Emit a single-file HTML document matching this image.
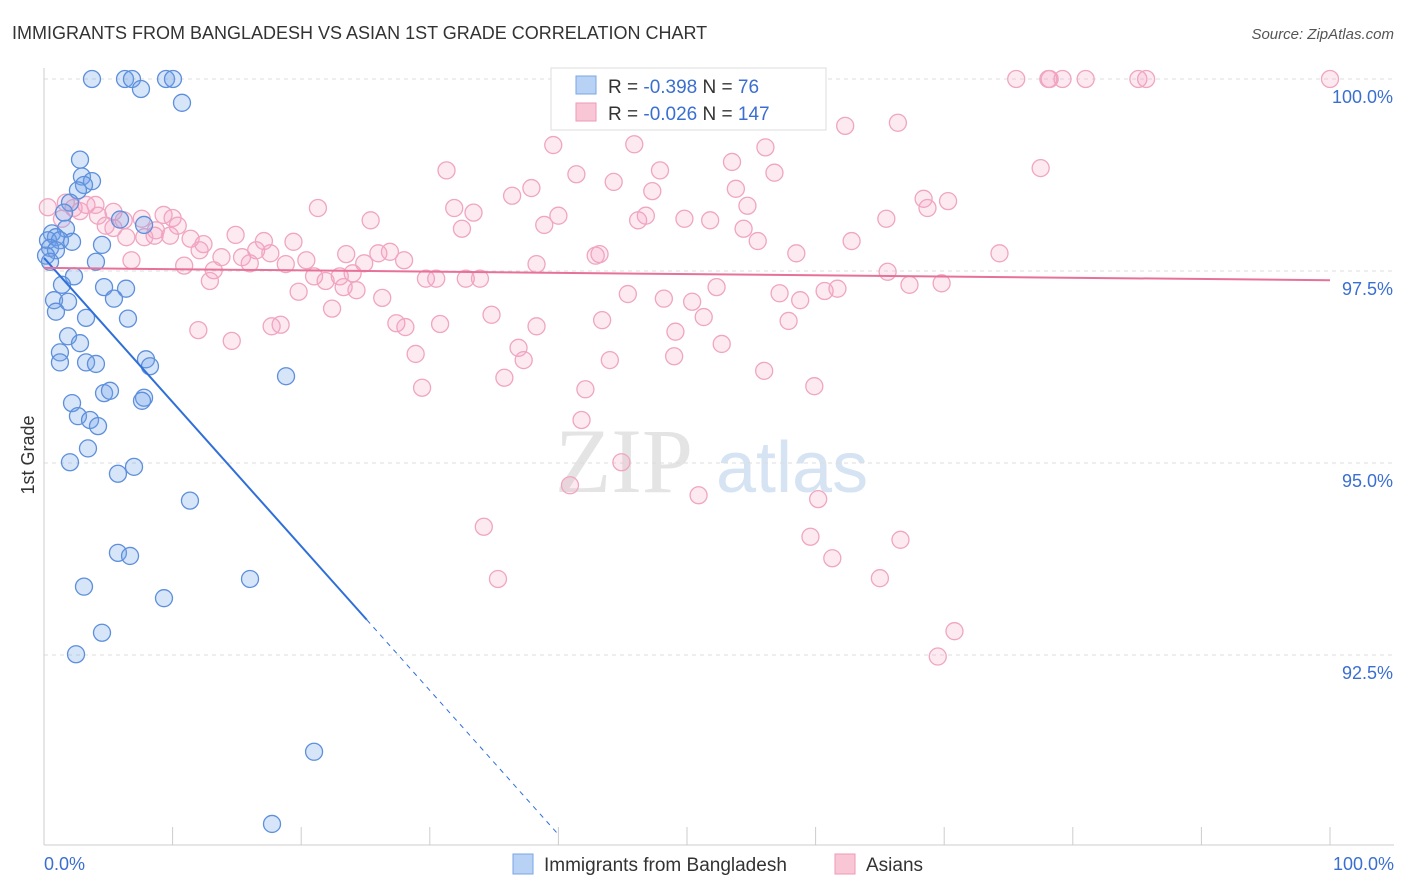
<!DOCTYPE html>
<html><head><meta charset="utf-8"><style>
body{margin:0;background:#fff;font-family:"Liberation Sans",sans-serif;}
svg{display:block}
</style></head><body>
<svg id="chart" width="1406" height="892">
<text x="12" y="39" font-size="18" fill="#333">IMMIGRANTS FROM BANGLADESH VS ASIAN 1ST GRADE CORRELATION CHART</text>
<text x="1394" y="39" font-size="15" fill="#555" text-anchor="end" font-style="italic">Source: ZipAtlas.com</text>
<text x="34" y="455" font-size="18" fill="#333" text-anchor="middle" transform="rotate(-90 34 455)">1st Grade</text>
<g><text x="555" y="492" font-size="92" fill="#e4e4e4" font-family="Liberation Serif,serif">ZIP</text><text x="716" y="492" font-size="72" fill="#d6e3f3">atlas</text></g>
<g id="grid"></g>
<g id="axes"></g>
<g id="pts"></g>
<g id="lines"></g>
<g>
<rect x="551" y="68" width="275" height="62" fill="#fff" stroke="#ddd"/>
<rect x="576" y="76" width="20" height="18" fill="#b8d2f5" stroke="#7aa6e4"/>
<rect x="576" y="103" width="20" height="18" fill="#f9c6d5" stroke="#ee9ab6"/>
<text x="608" y="93" font-size="19" fill="#333">R = <tspan fill="#3a6fd1">-0.398</tspan>   N =  <tspan fill="#3a6fd1"> 76</tspan></text>
<text x="608" y="120" font-size="19" fill="#333">R = <tspan fill="#3a6fd1">-0.026</tspan>   N = <tspan fill="#3a6fd1">147</tspan></text>
</g>
<g>
<rect x="513" y="854" width="20" height="20" fill="#b8d2f5" stroke="#7aa6e4"/>
<text x="544" y="871" font-size="19" fill="#333">Immigrants from Bangladesh</text>
<rect x="835" y="854" width="20" height="20" fill="#f9c6d5" stroke="#ee9ab6"/>
<text x="866" y="871" font-size="19" fill="#333">Asians</text>
</g>
</svg>
<script>
const yTicks=[100,97.5,95,92.5];
const yTickLabels=["100.0%","97.5%","95.0%","92.5%"];
const xTickLabels=["0.0%","100.0%"];
const blueX=[3.73,6.30,6.84,9.49,10.03,7.54,10.73,2.80,2.95,3.73,3.11,2.64,2.02,1.56,5.91,7.78,1.71,0.62,0.93,0.31,1.24,2.18,4.51,0.47,0.93,0.16,0.47,4.04,2.33,1.40,4.67,6.38,0.78,1.87,5.44,0.93,3.27,6.53,1.87,2.80,1.24,1.24,3.27,4.04,7.93,8.24,18.82,4.67,5.13,2.18,7.78,7.62,2.64,3.58,4.20,3.42,2.02,7.00,5.75,11.35,5.75,6.69,3.11,16.02,9.33,4.51,2.49,21.0,17.73];
const blueY=[100,100,100,100,100,99.87,99.69,98.95,98.73,98.67,98.62,98.55,98.39,98.26,98.17,98.10,98.05,97.99,97.94,97.90,97.90,97.88,97.84,97.80,97.77,97.70,97.62,97.62,97.43,97.32,97.29,97.27,97.12,97.10,97.14,96.97,96.89,96.88,96.65,96.56,96.44,96.31,96.31,96.29,96.35,96.26,96.13,95.91,95.94,95.78,95.85,95.81,95.61,95.56,95.48,95.19,95.01,94.95,94.86,94.51,93.83,93.79,93.39,93.49,93.24,92.79,92.51,91.24,90.30];
const pinkX=[75.6,78.1,79.2,81.0,85.1,85.7,100,78.2,62.3,66.4,39.6,45.9,56.1,53.5,47.9,77.5,31.3,41.4,56.8,44.3,37.9,53.8,47.3,36.4,68.4,70.3,54.7,68.7,31.9,21.3,33.4,40.0,46.2,46.8,49.8,51.8,65.5,25.4,32.5,38.9,54.4,0.3,1.7,3.3,4.2,5.4,4.8,6.2,1.4,7.6,9.3,10.0,10.4,8.6,8.7,6.4,7.8,11.4,14.9,12.4,17.1,19.4,55.5,62.8,43.2,16.5,13.8,15.4,16.0,17.6,20.4,23.5,26.0,26.9,28.0,24.9,38.3,42.9,58.5,74.3,6.8,10.9,13.2,18.8,21.0,24.0,23.0,21.9,29.7,30.5,32.8,33.9,12.9,65.6,52.3,67.3,69.8,19.8,23.3,24.3,26.3,45.4,48.2,50.4,57.2,58.8,60.7,61.7,22.4,34.8,51.3,43.4,57.9,38.3,12.0,14.6,17.7,18.4,27.4,28.1,30.8,49.1,52.7,36.9,28.9,37.3,44.0,49.0,56.0,35.8,29.4,42.1,59.9,41.8,44.9,40.9,50.9,60.2,34.2,59.6,66.6,61.3,35.3,65.0,70.8,69.5,4.0,2.3,2.8,5.4,9.8,12.1];
const pinkY=[100,100,100,100,100,100,100,100,99.39,99.43,99.14,99.15,99.11,98.92,98.81,98.84,98.81,98.76,98.78,98.66,98.58,98.57,98.54,98.48,98.44,98.41,98.35,98.32,98.32,98.32,98.26,98.22,98.16,98.22,98.18,98.16,98.18,98.16,98.05,98.10,98.05,98.33,98.39,98.36,98.22,98.27,98.09,98.16,98.18,98.18,98.23,98.19,98.09,97.96,98.03,97.94,97.94,97.92,97.97,97.85,97.89,97.88,97.89,97.89,97.72,97.77,97.68,97.68,97.60,97.73,97.64,97.72,97.73,97.75,97.64,97.60,97.59,97.70,97.73,97.73,97.64,97.57,97.51,97.59,97.43,97.47,97.43,97.37,97.40,97.40,97.40,97.40,97.37,97.49,97.29,97.32,97.34,97.23,97.29,97.25,97.15,97.20,97.14,97.10,97.21,97.12,97.24,97.27,97.01,96.93,96.90,96.86,96.85,96.78,96.73,96.59,96.78,96.80,96.82,96.77,96.81,96.71,96.55,96.50,96.42,96.34,96.34,96.39,96.20,96.11,95.98,95.96,96.00,95.56,95.01,94.71,94.58,94.53,94.17,94.04,94.00,93.76,93.49,93.50,92.81,92.48,98.36,98.32,98.28,98.06,97.96,97.77];
const blueTrend=[97.67,-0.1877];
const pinkTrend=[97.54,-0.0016];
const NS="http://www.w3.org/2000/svg";
const X0=44,X1=1330,Y100=79,PX_PER=76.8;
const sx=v=>X0+(X1-X0)*v/100;
const sy=v=>Y100+(100-v)*PX_PER;
function mk(t,a,p){const e=document.createElementNS(NS,t);for(const k in a)e.setAttribute(k,a[k]);p.appendChild(e);return e;}
const grid=document.getElementById('grid'),axes=document.getElementById('axes');
yTicks.forEach((t,i)=>{
 const l=mk('line',{x1:44,x2:1394,y1:sy(t),y2:sy(t),stroke:'#ddd','stroke-dasharray':'4,4'},grid);
 
 
 const tx=mk('text',{x:1393,y:sy(t)+24,'font-size':18,fill:'#3a6fd1','text-anchor':'end'},axes);
 tx.textContent=yTickLabels[i];
 
 
});
const xa=mk('line',{x1:44,x2:1394,y1:845,y2:845,stroke:'#ccc'},axes);


const ya=mk('line',{x1:44,x2:44,y1:68,y2:845,stroke:'#ccc'},axes);


for(let i=0;i<=10;i++){const t=mk('line',{x1:sx(i*10),x2:sx(i*10),y1:827,y2:845,stroke:'#ccc'},axes);
 
 }
[[0,'start',44],[100,'end',1394]].forEach((d,i)=>{const t=mk('text',{x:d[2],y:870,'font-size':18,fill:'#3a6fd1','text-anchor':d[1]},axes);t.textContent=xTickLabels[i];
 
 });
const pts=document.getElementById('pts');
pinkX.forEach((x,i)=>{const c=mk('circle',{cx:sx(x),cy:sy(pinkY[i]),r:8.5,fill:'rgba(244,160,190,0.22)',stroke:'#f0a5c0','stroke-width':1.3},pts);
 
 });
blueX.forEach((x,i)=>{const c=mk('circle',{cx:sx(x),cy:sy(blueY[i]),r:8.5,fill:'rgba(110,160,235,0.28)',stroke:'#5d8fdc','stroke-width':1.3},pts);
 
 });
const lines=document.getElementById('lines');
const bf=x=>blueTrend[0]+blueTrend[1]*x, pf=x=>pinkTrend[0]+pinkTrend[1]*x;
const b1=mk('line',{x1:sx(0),y1:sy(bf(0)),x2:sx(25.1),y2:sy(bf(25.1)),stroke:'#2f6fd8','stroke-width':2},lines);


const b2=mk('line',{x1:sx(25.1),y1:sy(bf(25.1)),x2:sx(40),y2:sy(bf(40)),stroke:'#2f6fd8','stroke-width':1,'stroke-dasharray':'5,5'},lines);


const p1=mk('line',{x1:sx(0),y1:sy(pf(0)),x2:sx(100),y2:sy(pf(100)),stroke:'#e8719a','stroke-width':2},lines);


</script>
</body></html>
